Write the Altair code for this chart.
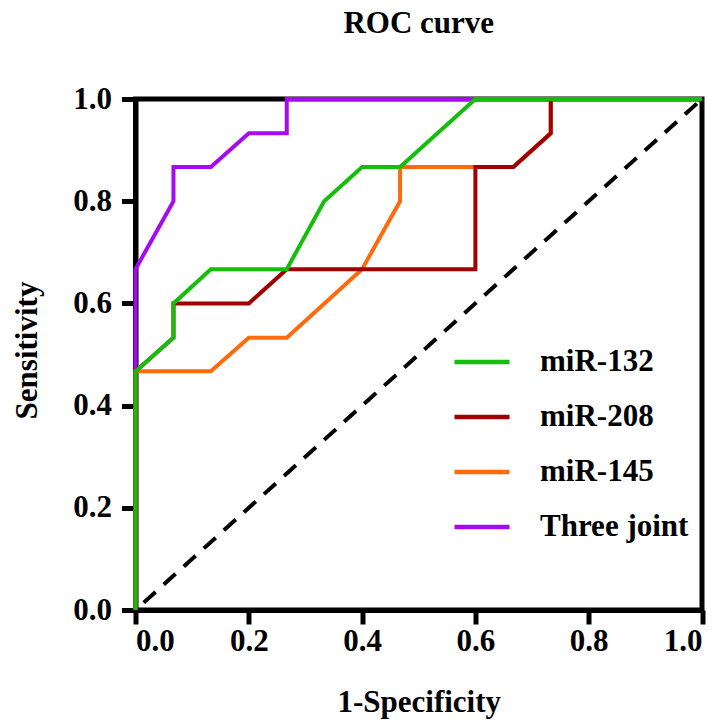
import altair as alt
import pandas as pd

series_names = ["miR-132", "miR-208", "miR-145", "Three joint"]
series_colors = ["#14BE0A", "#A00000", "#FF6A0A", "#A60AF0"]

fpr_132 = [0, 0, 0.067, 0.067, 0.133, 0.267, 0.333, 0.4, 0.467, 0.6, 1]
tpr_132 = [0, 0.467, 0.533, 0.6, 0.667, 0.667, 0.8, 0.867, 0.867, 1, 1]

fpr_208 = [0, 0, 0.067, 0.067, 0.2, 0.267, 0.6, 0.6, 0.667, 0.733, 0.733, 1]
tpr_208 = [0, 0.467, 0.533, 0.6, 0.6, 0.667, 0.667, 0.867, 0.867, 0.933, 1, 1]

fpr_145 = [0, 0, 0.133, 0.2, 0.267, 0.4, 0.467, 0.467, 0.6, 0.667, 0.733, 0.733, 1]
tpr_145 = [0, 0.467, 0.467, 0.533, 0.533, 0.667, 0.8, 0.867, 0.867, 0.867, 0.933, 1, 1]

fpr_joint = [0, 0, 0.067, 0.067, 0.133, 0.2, 0.267, 0.267, 1]
tpr_joint = [0, 0.667, 0.8, 0.867, 0.867, 0.933, 0.933, 1, 1]

ref_x = [0, 1]
ref_y = [0, 1]

tick_values = [0, 0.2, 0.4, 0.6, 0.8, 1.0]

rows = []
for name, fx, ty in [
    ("miR-132", fpr_132, tpr_132),
    ("miR-208", fpr_208, tpr_208),
    ("miR-145", fpr_145, tpr_145),
    ("Three joint", fpr_joint, tpr_joint),
]:
    for i, (a, b) in enumerate(zip(fx, ty)):
        rows.append({"series": name, "fpr": a, "tpr": b, "idx": i})
df = pd.DataFrame(rows)
ref_df = pd.DataFrame({"fpr": ref_x, "tpr": ref_y, "idx": [0, 1]})

FONT = "Liberation Serif"
FS = 31

x_enc = alt.X(
    "fpr:Q",
    scale=alt.Scale(domain=[0, 1], nice=False),
    axis=alt.Axis(
        values=tick_values, format=".1f", title="1-Specificity",
        titleBaseline="alphabetic", titleY=101,
    ),
)
y_enc = alt.Y(
    "tpr:Q",
    scale=alt.Scale(domain=[0, 1], nice=False),
    axis=alt.Axis(
        values=tick_values, format=".1f", title="Sensitivity",
        titleAngle=270, titleBaseline="alphabetic", titleAlign="center",
        titleX=-99, titleY=251,
    ),
)
color_enc = alt.Color(
    "series:N",
    scale=alt.Scale(domain=series_names, range=series_colors),
    legend=alt.Legend(
        title=None, orient="none", legendX=316.5, legendY=233,
        symbolType="stroke", symbolSize=3025, symbolStrokeWidth=4.5,
        labelFont=FONT, labelFontSize=FS, labelFontWeight="bold",
        labelColor="black", labelOffset=28, rowPadding=10, padding=0,
    ),
)

diag = alt.Chart(ref_df).mark_line(
    color="black", strokeWidth=4, strokeDash=[16, 11], strokeDashOffset=16
).encode(x=x_enc, y=y_enc, order="idx:Q")

layers = [diag]
for name in ["Three joint", "miR-145", "miR-208", "miR-132"]:
    layers.append(
        alt.Chart(df)
        .transform_filter(alt.datum.series == name)
        .mark_line(strokeWidth=4, strokeJoin="miter")
        .encode(x=x_enc, y=y_enc, color=color_enc, order="idx:Q")
    )

chart = (
    alt.layer(*layers)
    .properties(
        width=566.5,
        height=511,
        padding={"left": 127.5, "top": 91, "right": 16, "bottom": 109},
        autosize=alt.AutoSizeParams(type="none"),
        title=alt.TitleParams(
            "ROC curve", font=FONT, fontSize=FS, fontWeight="bold",
            color="black", anchor="middle", frame="group",
            baseline="alphabetic", offset=19,
        ),
    )
    .configure_view(stroke="black", strokeWidth=5)
    .configure_axis(
        grid=False,
        domainColor="black", domainWidth=5,
        tickColor="black", tickWidth=5, tickSize=14,
        labelFont=FONT, labelFontSize=FS, labelFontWeight="bold", labelColor="black",
        titleFont=FONT, titleFontSize=FS, titleFontWeight="bold", titleColor="black",
    )
    .configure_axisY(labelPadding=10)
    .configure_axisX(labelPadding=2)
)

chart.save("out.html", embed_options={"renderer": "svg", "actions": False})
